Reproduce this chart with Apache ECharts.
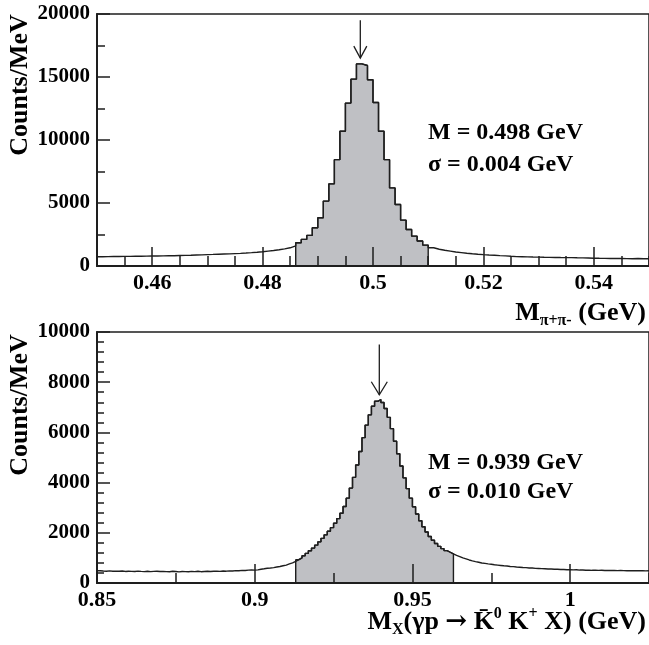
<!DOCTYPE html>
<html>
<head>
<meta charset="utf-8">
<script src="https://cdn.jsdelivr.net/npm/echarts@6/dist/echarts.min.js"></script>
<style>
html, body { margin: 0; padding: 0; background: #fff; }
#chart { width: 649px; height: 645px; }
</style>
</head>
<body>
<div id="chart"></div>
<script>
// pi+ pi- invariant mass, 1 MeV bins starting at 0.450 GeV
const topLow = 0.45
const topCounts = [
  740, 748, 755, 750, 766, 760, 771, 776, 781, 790,
  795, 801, 809, 816, 829, 841, 853, 871, 884, 905,
  920, 936, 951, 964, 986, 1004, 1031, 1059, 1092, 1128,
  1180, 1232, 1290, 1362, 1445, 1600,
  1850, 2110, 2430, 3030, 3830, 5150, 6520, 8440, 10690, 12930, 14830, 16040,
  15910, 14780, 12980, 10690, 8440, 6200, 4880, 3640, 2900, 2370, 1980, 1660,
  1450,
  1330, 1250, 1180, 1110, 1060, 1010, 970, 932, 901, 874,
  851, 824, 801, 772, 748, 736, 721, 709, 701, 690,
  686, 679, 671, 664, 661, 649, 641, 632, 620, 611,
  606, 600, 591, 596, 585, 580, 590, 576, 581
]
const topShade = [0.486, 0.510]
const topArrowX = 0.4977
const topNotes = ['M = 0.498 GeV', 'σ = 0.004 GeV']

// missing mass, 1 MeV bins starting at 0.850 GeV
const botLow = 0.85
const botCounts = [
  488, 476, 470, 481, 466, 473, 467, 477, 461, 471,
  465, 458, 473, 462, 455, 467, 453, 464, 470, 457,
  462, 455, 449, 466, 458, 445, 460, 452, 448, 463,
  455, 467, 451, 461, 469, 458, 466, 474, 462, 479,
  471, 485, 478, 494, 487, 504, 497, 511, 519, 512,
  522, 548, 566, 585, 598, 614, 636, 658, 686, 712,
  760, 800, 862, 928, 1002, 1088, 1180, 1282, 1390, 1508,
  1640, 1778, 1918, 2062, 2205, 2380, 2565, 2780, 3050, 3380,
  3780, 4210, 4700, 5240, 5790, 6290, 6700, 7040, 7240, 7310,
  7190, 6950, 6600, 6150, 5650, 5150, 4660, 4190, 3760, 3380,
  3040, 2750, 2480, 2240, 2030, 1850, 1705, 1575, 1460, 1370,
  1290, 1225, 1160, 1098, 1050, 998, 960, 918, 880, 852,
  826, 798, 782, 762, 748, 728, 714, 700, 686, 676,
  660, 652, 640, 630, 618, 612, 600, 596, 584, 580,
  572, 568, 558, 556, 546, 547, 538, 537, 529, 530,
  522, 526, 515, 518, 510, 514, 505, 508, 502, 506,
  498, 503, 496, 500, 492, 497, 494, 489, 495, 490,
  492, 486, 491, 485, 489
]
const botShade = [0.913, 0.963]
const botArrowX = 0.9395
const botNotes = ['M = 0.939 GeV', 'σ = 0.010 GeV']

const binWidth = 0.001
const serif = 'Liberation Serif, Times New Roman, serif'
const ink = '#1e1e1e'
const fill = '#bfc0c4'

function edge(low, i) { return +(low + i * binWidth).toFixed(4) }

function outline(low, counts) {
  const pts = counts.map((c, i) => [edge(low, i), c])
  pts.push([edge(low, counts.length), counts[counts.length - 1]])
  return pts
}

function shaded(low, counts, range) {
  const pts = []
  counts.forEach((c, i) => {
    const x = edge(low, i)
    if (x > range[0] - 1e-6 && x < range[1] - 1e-6) pts.push([x, c])
  })
  const last = pts[pts.length - 1][1]
  return [[pts[0][0], 0], ...pts, [range[1], last], [range[1], 0]]
}

const yLabel = { fontFamily: serif, fontWeight: 'bold', fontSize: 21, color: '#000' }
const xLabel = { fontFamily: serif, fontWeight: 'bold', fontSize: 22, color: '#000' }
const tickStyle = { color: ink, width: 1.5 }

function xMain(grid, min, max, extra) {
  return Object.assign({
    gridIndex: grid, type: 'value', position: 'bottom', min, max, z: 10,
    axisLine: { show: true, onZero: false, lineStyle: { color: ink, width: 2 } },
    axisTick: { show: true, inside: true, length: 19, lineStyle: tickStyle },
    axisLabel: Object.assign({ margin: 6, showMaxLabel: false, formatter: (v) => String(v) }, xLabel),
    splitLine: { show: false }
  }, extra)
}

function xMinor(grid, min, max, step) {
  return {
    gridIndex: grid, type: 'value', position: 'bottom', min, max, interval: step, z: 10,
    axisLine: { show: false },
    axisTick: { show: true, inside: true, length: 10, lineStyle: tickStyle },
    axisLabel: { show: false },
    splitLine: { show: false }
  }
}

function yAxis(grid, max, step, minorSplit, minorLen) {
  return {
    gridIndex: grid, type: 'value', min: 0, max, interval: step, z: 10,
    axisLine: { show: true, onZero: false, lineStyle: { color: ink, width: 2 } },
    axisTick: { show: true, inside: true, length: 13, lineStyle: tickStyle },
    minorTick: { show: true, splitNumber: minorSplit, length: minorLen, lineStyle: tickStyle },
    axisLabel: Object.assign({ margin: 7, formatter: (v) => String(v) }, yLabel),
    splitLine: { show: false }
  }
}

function histSeries(xi, yi, low, counts, range) {
  return [{
    type: 'line', xAxisIndex: xi, yAxisIndex: yi, step: 'end', showSymbol: false, z: 2,
    data: shaded(low, counts, range),
    lineStyle: { color: ink, width: 1.4 },
    areaStyle: { color: fill, opacity: 1 }
  }, {
    type: 'line', xAxisIndex: xi, yAxisIndex: yi, step: 'end', showSymbol: false, z: 3,
    data: outline(low, counts),
    lineStyle: { color: ink, width: 1.4 }
  }]
}

const main = { fontFamily: serif, fontWeight: 'bold', fontSize: 26, lineHeight: 32, fill: '#000' }
const sub = { fontFamily: serif, fontWeight: 'bold', fontSize: 16, lineHeight: 12, verticalAlign: 'bottom', fill: '#000' }
const sup = { fontFamily: serif, fontWeight: 'bold', fontSize: 16, lineHeight: 12, verticalAlign: 'top', fill: '#000' }
const arrowGlyph = { fontFamily: 'DejaVu Serif, serif', fontWeight: 'bold', fontSize: 26, lineHeight: 32, fill: '#000' }

function note(x, y, text) {
  return { type: 'text', x, y, z: 20, style: { text, fontFamily: serif, fontWeight: 'bold', fontSize: 24, fill: '#000', align: 'left', verticalAlign: 'middle' } }
}

function yTitle(x, y) {
  return { type: 'text', x, y, rotation: Math.PI / 2, z: 20, style: { text: 'Counts/MeV', fontFamily: serif, fontWeight: 'bold', fontSize: 26, fill: '#000', align: 'center', verticalAlign: 'middle' } }
}

const chart = echarts.init(document.getElementById('chart'))

chart.setOption({
  animation: false,
  backgroundColor: '#fff',
  grid: [
    { left: 97, top: 14, width: 553, height: 252, show: true, borderColor: ink, borderWidth: 1.5, backgroundColor: 'transparent' },
    { left: 97, top: 332, width: 553, height: 251, show: true, borderColor: ink, borderWidth: 1.5, backgroundColor: 'transparent' }
  ],
  xAxis: [
    xMain(0, 0.45, 0.55, { splitNumber: 5, axisLabel: Object.assign({ margin: 6, showMinLabel: false, showMaxLabel: false, formatter: (v) => String(v) }, xLabel) }),
    xMinor(0, 0.45, 0.55, 0.005),
    xMain(1, 0.85, 1.025, { interval: 0.05 }),
    xMinor(1, 0.85, 1.025, 0.025)
  ],
  yAxis: [
    yAxis(0, 20000, 5000, 2, 8),
    yAxis(1, 10000, 2000, 5, 7)
  ],
  series: [
    ...histSeries(0, 0, topLow, topCounts, topShade),
    ...histSeries(2, 1, botLow, botCounts, botShade)
  ]
})

function arrow(seriesIndex, x, yFrom, yTo, hw, hh) {
  const a = chart.convertToPixel({ seriesIndex }, [x, yFrom])
  const b = chart.convertToPixel({ seriesIndex }, [x, yTo])
  const st = { stroke: ink, lineWidth: 1.3, fill: 'none' }
  return [
    { type: 'line', z: 20, shape: { x1: a[0], y1: a[1], x2: b[0], y2: b[1] }, style: st },
    { type: 'polyline', z: 20, shape: { points: [[b[0] - hw, b[1] - hh], [b[0], b[1]], [b[0] + hw, b[1] - hh]] }, style: st }
  ]
}

chart.setOption({
  graphic: [
    yTitle(20, 85),
    yTitle(20, 405),
    note(428, 133, topNotes[0]),
    note(428, 165, topNotes[1]),
    note(428, 463, botNotes[0]),
    note(428, 492, botNotes[1]),
    { type: 'text', x: 646, y: 313, z: 20, style: { text: '{m|M}{s|π+π-}{m| (GeV)}', rich: { m: main, s: sub }, align: 'right', verticalAlign: 'middle' } },
    { type: 'text', x: 646, y: 622, z: 20, style: { text: '{m|M}{s|X}{m|(γp }{a|→}{m| K\u0304}{p|0}{m| K}{p|+}{m| X) (GeV)}', rich: { m: main, s: sub, p: sup, a: arrowGlyph }, align: 'right', verticalAlign: 'middle' } },
    ...arrow(1, topArrowX, 19500, 16500, 6.5, 12),
    ...arrow(3, botArrowX, 9500, 7500, 8, 13)
  ]
})
</script>
</body>
</html>
